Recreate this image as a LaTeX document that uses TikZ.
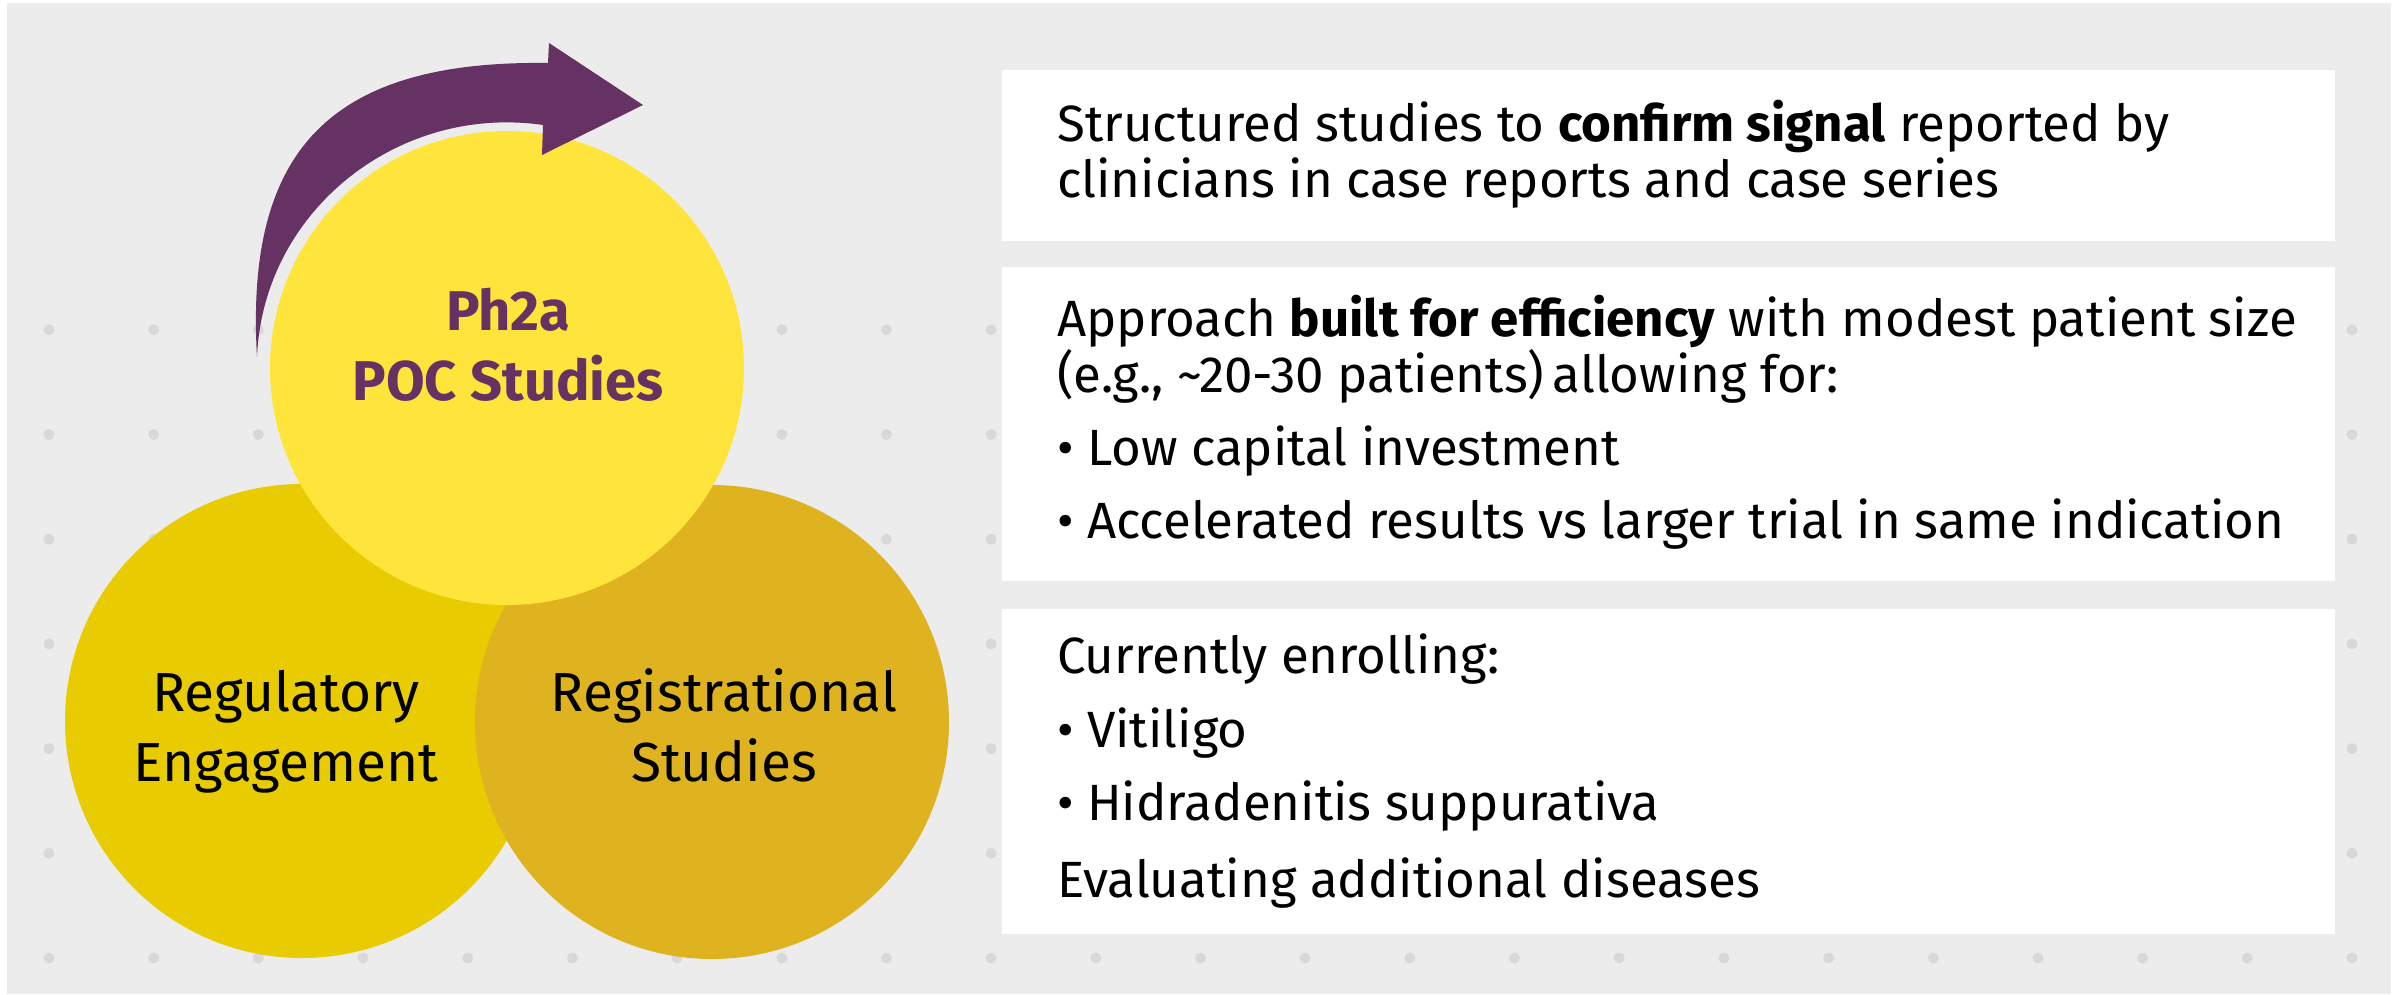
\documentclass[tikz,border=0pt]{standalone}
\usepackage{fontspec}
\setmainfont{Fira Sans}
\definecolor{bggray}{HTML}{ECECEC}
\definecolor{dotgray}{HTML}{D8D8DA}
\definecolor{ytop}{HTML}{FFE53B}
\definecolor{yleft}{HTML}{E8CB00}
\definecolor{yright}{HTML}{DFB31F}
\definecolor{plum}{HTML}{663163}
\tikzset{
  circ/.style={circle, inner sep=0pt, minimum size=474pt},
  box/.style={fill=white, inner sep=0pt, anchor=north west, minimum width=1333pt},
  txt/.style={anchor=base west, inner sep=0pt, font=\fontsize{51}{60}\selectfont},
  ctxt/.style={anchor=base, inner sep=0pt, font=\fontsize{55}{66}\selectfont},
  btxt/.style={anchor=base, inner sep=0pt, text=plum, font=\fontsize{56}{66}\selectfont\bfseries},
}
\begin{document}
\begin{tikzpicture}[x=1pt,y=-1pt]
\useasboundingbox (0,0) rectangle (2394,994);
\fill[white] (0,0) rectangle (2394,994);
\fill[bggray] (7,3) rectangle (2391,994);
% dot grid
\foreach \i in {0,...,22}{
  \foreach \j in {0,...,6}{
    \fill[dotgray] ({49+\i*104.68},{958-\j*104.7}) circle[radius=5.5pt];
  }
}
% circles
\node[circ, fill=yleft] (reg) at (302,721) {};
\node[circ, fill=yright] (regs) at (712,722) {};
\node[circ, fill=ytop] (poc) at (507,368) {};
% circle texts
\node[btxt] (poc1) at (508,330) {Ph2a};
\node[btxt] (poc2) at (508,400) {POC Studies};
\node[ctxt] (reg1) at (286,711) {Regulatory};
\node[ctxt] (reg2) at (286,781) {Engagement};
\node[ctxt] (regs1) at (724,711) {Registrational};
\node[ctxt] (regs2) at (724,781) {Studies};
% curved arrow
\fill[plum] (257,357) .. controls (245,150) and (330,60) .. (548,63)
  -- (549,43) -- (643,105) -- (542,155) -- (543,125)
  .. controls (398,104) and (263,211) .. cycle;
% boxes
\node[box, minimum height=171pt] (b1) at (1002,70) {};
\node[box, minimum height=314pt] (b2) at (1002,267) {};
\node[box, minimum height=325pt] (b3) at (1002,609) {};
% box texts
\node[txt] (t11) at (1057,141) {Structured studies to \textbf{confirm signal} reported by};
\node[txt] (t12) at (1057,197) {clinicians in case reports and case series};
\node[txt] (t21) at (1057,336) {Approach \textbf{built for efficiency} with modest patient size};
\node[txt] (t22) at (1057,392) {(e.g., \textasciitilde20-30 patients)\,allowing for:};
\node[txt] (t23) at (1057,465) {• Low capital investment};
\node[txt] (t24) at (1057,538) {• Accelerated results vs larger trial in same indication};
\node[txt] (t31) at (1057,673) {Currently enrolling:};
\node[txt] (t32) at (1057,747) {• Vitiligo};
\node[txt] (t33) at (1057,820) {• Hidradenitis suppurativa};
\node[txt] (t34) at (1057,897) {Evaluating additional diseases};
\end{tikzpicture}
\end{document}
